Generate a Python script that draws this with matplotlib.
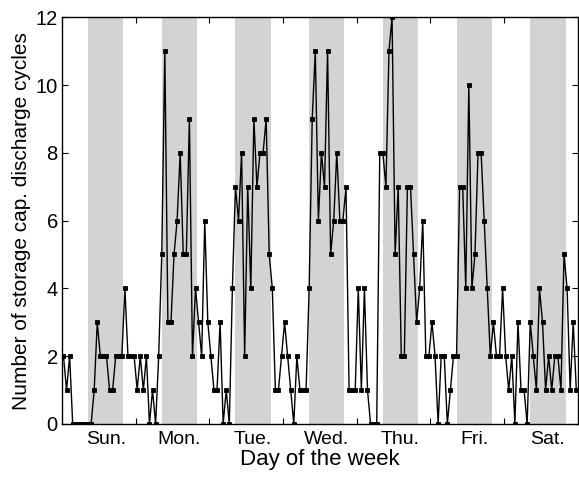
import matplotlib
matplotlib.use('Agg')
import matplotlib.pyplot as plt
import numpy as np

plt.rcParams['font.family'] = ['Liberation Sans', 'DejaVu Sans']

# hourly discharge cycle counts, one row per day (Sun .. Sat)
day_names = ['Sun.', 'Mon.', 'Tue.', 'Wed.', 'Thu.', 'Fri.', 'Sat.']
sun = [2, 1, 2, 0, 0, 0, 0, 0, 0, 0, 1, 3, 2, 2, 2, 1, 1, 2, 2, 2, 4, 2, 2, 2]
mon = [1, 2, 1, 2, 0, 1, 0, 2, 5, 11, 3, 3, 5, 6, 8, 5, 5, 9, 2, 4, 3, 2, 6, 3]
tue = [2, 1, 1, 3, 0, 1, 0, 4, 7, 6, 8, 2, 7, 4, 9, 7, 8, 8, 9, 5, 4, 1, 1, 2]
wed = [3, 2, 1, 0, 2, 1, 1, 1, 4, 9, 11, 6, 8, 7, 11, 5, 6, 8, 6, 6, 7, 1, 1, 1]
thu = [4, 1, 4, 1, 0, 0, 0, 8, 8, 7, 11, 12, 5, 7, 2, 2, 7, 7, 5, 3, 4, 6, 2, 2]
fri = [3, 2, 0, 2, 2, 0, 1, 2, 2, 7, 7, 4, 10, 4, 5, 8, 8, 6, 4, 2, 3, 2, 2, 4]
sat = [2, 1, 2, 0, 3, 1, 1, 0, 3, 2, 1, 4, 3, 1, 2, 1, 2, 2, 1, 5, 4, 1, 3, 1]

# daytime window (hours) shaded in grey
day_start, day_end = 8.5, 20.0

counts = np.array(sun + mon + tue + wed + thu + fri + sat)
hours = np.arange(len(counts)) + 0.5

fig = plt.figure(figsize=(5.79, 4.78), dpi=100)
ax = fig.add_axes([0.107, 0.113, 0.891, 0.851])

for d in range(len(day_names)):
    ax.axvspan(24 * d + day_start, 24 * d + day_end, color='#d3d3d5', lw=0, zorder=0)

ax.plot(hours, counts, color='k', lw=1.0, marker='s', ms=3.0,
        mfc='k', mec='k', mew=0.6, zorder=3)

ax.set_xlim(0, 168)
ax.set_ylim(0, 12)

# day boundaries as unlabeled ticks, names centred on the daytime span
ax.set_xticks(np.arange(24, 168, 24))
ax.set_xticklabels([])
ax.set_xticks([24 * d + (day_start + day_end) / 2 for d in range(7)], minor=True)
ax.set_xticklabels(day_names, minor=True, fontsize=14)
ax.tick_params(axis='x', which='minor', length=0, pad=5)
ax.tick_params(axis='x', which='major', direction='in', length=4, top=True)
ax.set_yticks(np.arange(0, 13, 2))
ax.tick_params(axis='y', direction='in', length=4, right=True, labelsize=14.5, pad=3)

for s in ax.spines.values():
    s.set_linewidth(1.0)

ax.set_xlabel('Day of the week', fontsize=16, labelpad=1)
ax.set_ylabel('Number of storage cap. discharge cycles', fontsize=15, labelpad=3)

fig.savefig('out.png', dpi=100)
